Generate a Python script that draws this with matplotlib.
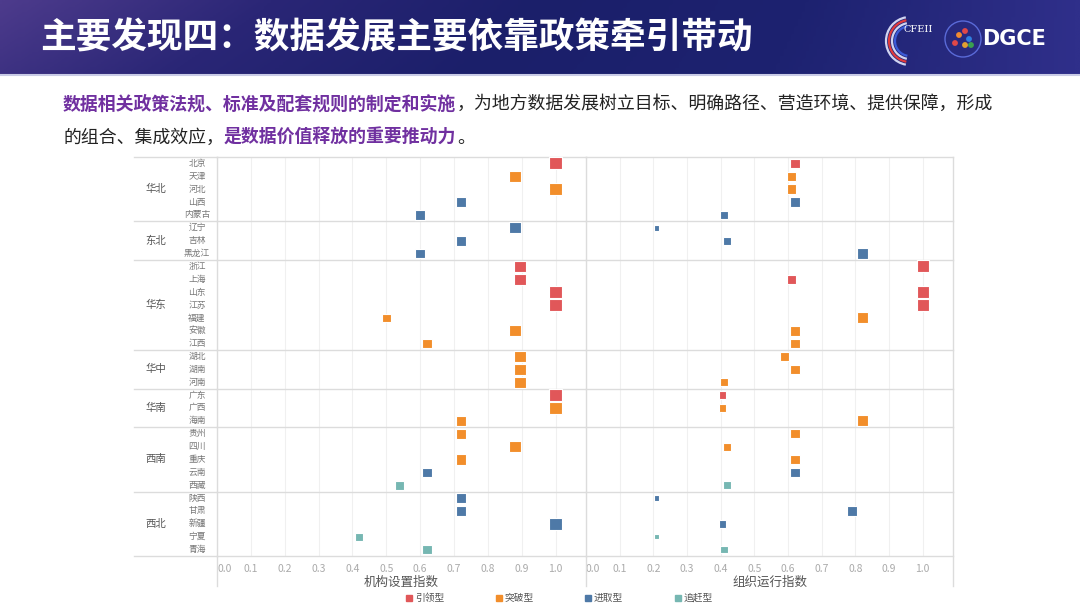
import numpy as np
import matplotlib
matplotlib.use("Agg")
import matplotlib.pyplot as plt
from matplotlib.lines import Line2D
from matplotlib.patches import Circle, Arc
from matplotlib.colors import LinearSegmentedColormap

plt.rcParams['font.family'] = ['Noto Sans CJK SC', 'DejaVu Sans']

# data
regions = ["华北", "东北", "华东", "华中", "华南", "西南", "西北"]
region_sizes = [5, 3, 7, 3, 3, 5, 5]
provinces = ["北京", "天津", "河北", "山西", "内蒙古",
             "辽宁", "吉林", "黑龙江",
             "浙江", "上海", "山东", "江苏", "福建", "安徽", "江西",
             "湖北", "湖南", "河南",
             "广东", "广西", "海南",
             "贵州", "四川", "重庆", "云南", "西藏",
             "陕西", "甘肃", "新疆", "宁夏", "青海"]
org_index = [1.0, 0.88, 1.0, 0.72, 0.60,
             0.88, 0.72, 0.60,
             0.895, 0.895, 1.0, 1.0, 0.50, 0.88, 0.62,
             0.895, 0.895, 0.895,
             1.0, 1.0, 0.72,
             0.72, 0.88, 0.72, 0.62, 0.54,
             0.72, 0.72, 1.0, 0.42, 0.62]
run_index = [0.62, 0.61, 0.61, 0.62, 0.41,
             0.21, 0.42, 0.82,
             1.0, 0.61, 1.0, 1.0, 0.82, 0.62, 0.62,
             0.59, 0.62, 0.41,
             0.405, 0.405, 0.82,
             0.62, 0.42, 0.62, 0.62, 0.42,
             0.21, 0.79, 0.405, 0.21, 0.41]
types = ["引领型", "突破型", "突破型", "进取型", "进取型",
         "进取型", "进取型", "进取型",
         "引领型", "引领型", "引领型", "引领型", "突破型", "突破型", "突破型",
         "突破型", "突破型", "突破型",
         "引领型", "突破型", "突破型",
         "突破型", "突破型", "突破型", "进取型", "追赶型",
         "进取型", "进取型", "进取型", "追赶型", "追赶型"]
type_names = ["引领型", "突破型", "进取型", "追赶型"]
type_colors = {"引领型": "#E15759", "突破型": "#F28E2B",
               "进取型": "#4E79A7", "追赶型": "#76B7B2"}
x_ticks = [0.0, 0.1, 0.2, 0.3, 0.4, 0.5, 0.6, 0.7, 0.8, 0.9, 1.0]

W, H = 1080, 607
fig = plt.figure(figsize=(W / 100, H / 100), dpi=100)
fig.patch.set_facecolor("white")


def box(x0, y0, x1, y1):
    # pixel box -> figure fraction rect
    return [x0 / W, 1 - y1 / H, (x1 - x0) / W, (y1 - y0) / H]


def fx(x):
    return x / W


def fy(y):
    return 1 - y / H


# ---- header band ----
hdr = fig.add_axes(box(0, 0, W, 74))
cmap = LinearSegmentedColormap.from_list(
    "hdr", ["#4d3b8c", "#2a2676", "#1b1f6a", "#1d2270", "#2f2f8a"])
gx = np.linspace(0, 1, 300)
gy = np.linspace(0, 1, 30)
grad = gx[None, :] + 0.12 * (gy[:, None] - 0.5) * (1 - gx[None, :])
hdr.imshow(grad, aspect="auto", cmap=cmap, extent=[0, 1, 0, 1])
hdr.set_axis_off()
fig.add_artist(Line2D([0, 1], [fy(75), fy(75)], color="#c9cbe6", lw=1.5))

fig.text(fx(40), fy(38), "主要发现四：数据发展主要依靠政策牵引带动",
         color="white", fontsize=25.7, fontweight="bold", va="center", ha="left")

# logos (rough)
logo = fig.add_axes(box(870, 5, 1070, 75))
logo.set_xlim(0, 200)
logo.set_ylim(70, 0)
logo.set_axis_off()
for r, c in [(24, "#d0d4f0"), (21, "#e23b3b"), (18, "#d0d4f0"), (15, "#3b5bd8")]:
    logo.add_patch(Arc((40, 36), r * 2, r * 2, theta1=100, theta2=260, color=c, lw=1.6))
logo.text(33, 25, "CFEII", color="white", fontsize=7, family="DejaVu Serif",
          va="center", ha="left")
logo.add_patch(Circle((93, 34), 18, fill=False, ec="#5a6ad8", lw=1.0))
for dx, dy, c in [(-8, 4, "#e04848"), (-4, -4, "#f08a30"), (2, -8, "#e04848"),
                  (6, 0, "#2f7fe0"), (8, 6, "#3aa050"), (2, 6, "#e0a030")]:
    logo.add_patch(Circle((93 + dx, 34 + dy), 2.2, color=c))
logo.text(112, 34, "DGCE", color="white", fontsize=15, fontweight="bold",
          family="DejaVu Sans", va="center", ha="left")

# ---- subtitle with mixed colours ----
purple = "#7030A0"
fs_px = 17.9
lines = [
    [("数据相关政策法规、标准及配套规则的制定和实施", purple, "bold"),
     ("，为地方数据发展树立目标、明确路径、营造环境、提供保障，形成", "#222222", "normal")],
    [("的组合、集成效应，", "#222222", "normal"),
     ("是数据价值释放的重要推动力", purple, "bold"),
     ("。", "#222222", "normal")],
]
for li, segs in enumerate(lines):
    x = 63
    y = 104 + li * 34
    for s, c, w in segs:
        fig.text(fx(x), fy(y), s, color=c, fontweight=w, fontsize=12.9,
                 va="center", ha="left")
        x += len(s) * fs_px

# ---- chart ----
n = len(provinces)
rows = np.arange(n)
bounds = np.cumsum(region_sizes)
top_px, bot_px = 157, 556

lab = fig.add_axes(box(134, top_px, 217, bot_px))
ax1 = fig.add_axes(box(217, top_px, 586, bot_px))
ax2 = fig.add_axes(box(586, top_px, 953, bot_px))

for ax in (lab, ax1, ax2):
    ax.set_ylim(n - 0.5, -0.5)
    for sp in ax.spines.values():
        sp.set_visible(False)
    ax.axhline(-0.5, color="#dcdcdc", lw=1.0, clip_on=False)
    for b in bounds:
        ax.axhline(b - 0.5, color="#dcdcdc", lw=1.0, clip_on=False)

lab.set_xlim(0, 1)
lab.set_xticks([])
lab.set_yticks([])
start = 0
for reg, sz in zip(regions, region_sizes):
    lab.text(0.26, start + (sz - 1) / 2, reg, fontsize=7.5, color="#555555",
             ha="center", va="center")
    start += sz
for i, p in enumerate(provinces):
    lab.text(0.76, i, p, fontsize=6.3, color="#777777", ha="center", va="center")

colors = [type_colors[t] for t in types]
for ax, vals, title in [(ax1, org_index, "机构设置指数"), (ax2, run_index, "组织运行指数")]:
    ax.set_xlim(0, 1.09)
    ax.set_yticks([])
    ax.set_xticks(x_ticks)
    ax.set_xticklabels([f"{t:.1f}" for t in x_ticks])
    ax.tick_params(axis="x", length=0, labelsize=7.5, labelcolor="#aaaaaa", pad=6)
    ax.get_xticklabels()[0].set_horizontalalignment("left")
    for t in x_ticks:
        ax.axvline(t, color="#f0f0f0", lw=0.8, zorder=0)
    ax.set_xlabel(title, fontsize=9, color="#555555", labelpad=1)
    ax.scatter(vals, rows, s=np.array(vals) * 76, marker="s", c=colors,
               edgecolors="white", linewidths=0.8, zorder=3)

# panel borders running through the axis area
for xp in (217, 586, 953):
    fig.add_artist(Line2D([fx(xp), fx(xp)], [fy(top_px), fy(586)],
                          color="#dcdcdc", lw=1.0))

# legend
for i, t in enumerate(type_names):
    x0 = 409 + i * 89.5
    fig.add_artist(Line2D([fx(x0)], [fy(598)], marker="s", markersize=5,
                          color=type_colors[t], lw=0))
    fig.text(fx(x0 + 6), fy(598), t, fontsize=7, color="#555555",
             ha="left", va="center")

fig.savefig("out.png", dpi=100)
